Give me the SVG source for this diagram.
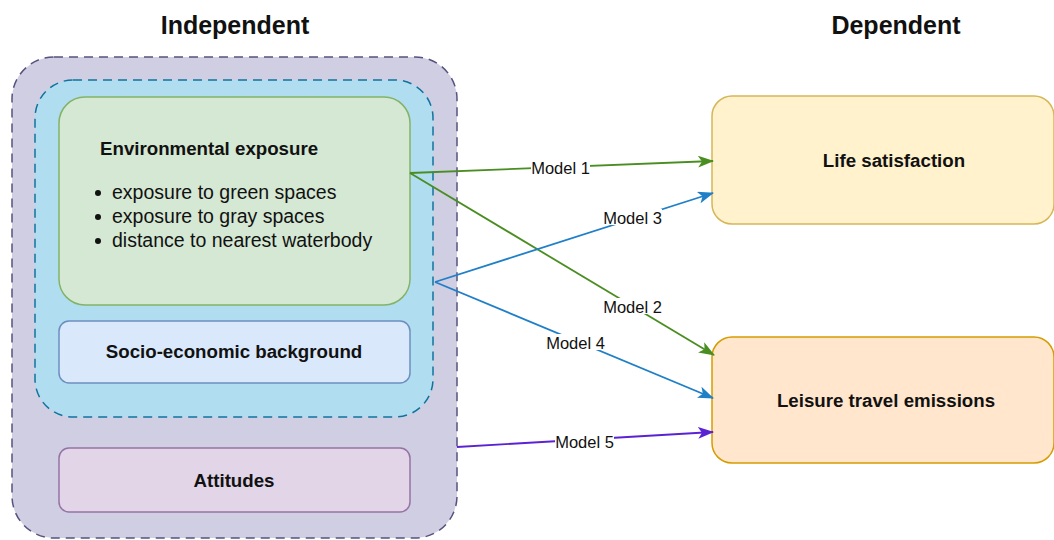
<svg xmlns="http://www.w3.org/2000/svg" width="1054" height="540" viewBox="0 0 1054 540">
  <style>
    .title { font-family: "Liberation Sans", Arial, sans-serif; font-weight: bold; font-size: 25px; fill: #111; }
    .bold { font-family: "Liberation Sans", Arial, sans-serif; font-weight: bold; font-size: 18.7px; fill: #111; }
    .body { font-family: "Liberation Sans", Arial, sans-serif; font-size: 19.5px; fill: #111; }
    .lbl { font-family: "Liberation Sans", Arial, sans-serif; font-size: 16.5px; fill: #111; }
    .lblbg { fill: #fff; }
    .edge { fill: none; stroke-width: 1.8; }
  </style>
  <defs>
    <marker id="arrGreen" viewBox="0 0 16 12" refX="15" refY="6" markerWidth="16" markerHeight="12" markerUnits="userSpaceOnUse" orient="auto">
      <path d="M0,0 L16,6 L0,12 L4,6 z" fill="#4a8e22"/>
    </marker>
    <marker id="arrBlue" viewBox="0 0 16 12" refX="15" refY="6" markerWidth="16" markerHeight="12" markerUnits="userSpaceOnUse" orient="auto">
      <path d="M0,0 L16,6 L0,12 L4,6 z" fill="#1f7fc7"/>
    </marker>
    <marker id="arrPurple" viewBox="0 0 16 12" refX="15" refY="6" markerWidth="16" markerHeight="12" markerUnits="userSpaceOnUse" orient="auto">
      <path d="M0,0 L16,6 L0,12 L4,6 z" fill="#5b22d4"/>
    </marker>
  </defs>

  <rect width="1054" height="540" fill="#fff"/>

  <!-- column headings -->
  <text class="title" x="235" y="34" text-anchor="middle">Independent</text>
  <text class="title" x="896" y="34" text-anchor="middle">Dependent</text>

  <!-- independent variable groups -->
  <g id="independent-group">
    <rect x="12" y="57" width="445" height="481" rx="42" fill="#d0cee2" stroke="#56517e" stroke-width="1.5" stroke-dasharray="9 6"/>
  </g>
  <g id="exposure-group">
    <rect x="35" y="80" width="398" height="337" rx="38" fill="#b1ddf0" stroke="#10739e" stroke-width="1.5" stroke-dasharray="9 6"/>
  </g>

  <g id="environmental-exposure">
    <rect x="59" y="97" width="351" height="208" rx="26" fill="#d5e8d4" stroke="#82b366" stroke-width="1.5"/>
    <text class="bold" x="100" y="155">Environmental exposure</text>
    <circle cx="98" cy="193" r="3" fill="#111"/>
    <circle cx="98" cy="217" r="3" fill="#111"/>
    <circle cx="98" cy="241" r="3" fill="#111"/>
    <text class="body" x="112" y="199">exposure to green spaces</text>
    <text class="body" x="112" y="223">exposure to gray spaces</text>
    <text class="body" x="112" y="247">distance to nearest waterbody</text>
  </g>

  <g id="socio-economic">
    <rect x="59" y="321" width="351" height="62" rx="10" fill="#dae8fc" stroke="#6c8ebf" stroke-width="1.5"/>
    <text class="bold" x="234" y="358" text-anchor="middle">Socio-economic background</text>
  </g>

  <g id="attitudes">
    <rect x="59" y="448" width="351" height="64" rx="10" fill="#e1d5e7" stroke="#9673a6" stroke-width="1.5"/>
    <text class="bold" x="234" y="487" text-anchor="middle">Attitudes</text>
  </g>

  <!-- dependent variables -->
  <g id="life-satisfaction">
    <rect x="712" y="96" width="342" height="128" rx="20" fill="#fff2cc" stroke="#d6b656" stroke-width="1.5"/>
    <text class="bold" x="894" y="167" text-anchor="middle">Life satisfaction</text>
  </g>

  <g id="leisure-travel-emissions">
    <rect x="712" y="337" width="342" height="126" rx="20" fill="#ffe6cc" stroke="#d79b00" stroke-width="1.5"/>
    <text class="bold" x="886" y="407" text-anchor="middle">Leisure travel emissions</text>
  </g>

  <!-- model connectors -->
  <g id="connectors">
    <line class="edge" x1="410" y1="173" x2="713" y2="161" stroke="#4a8e22" marker-end="url(#arrGreen)"/>
    <line class="edge" x1="410" y1="173" x2="714" y2="355" stroke="#4a8e22" marker-end="url(#arrGreen)"/>
    <line class="edge" x1="435" y1="282" x2="713" y2="193" stroke="#1f7fc7" marker-end="url(#arrBlue)"/>
    <line class="edge" x1="435" y1="282" x2="713" y2="398" stroke="#1f7fc7" marker-end="url(#arrBlue)"/>
    <line class="edge" x1="457" y1="447" x2="713" y2="432" stroke="#5b22d4" marker-end="url(#arrPurple)"/>

    <rect class="lblbg" x="531" y="160" width="59" height="15"/>
    <text class="lbl" x="560.5" y="174" text-anchor="middle">Model 1</text>
    <rect class="lblbg" x="603" y="298" width="59" height="16"/>
    <text class="lbl" x="632.5" y="313" text-anchor="middle">Model 2</text>
    <rect class="lblbg" x="603" y="209" width="59" height="16"/>
    <text class="lbl" x="632.5" y="224" text-anchor="middle">Model 3</text>
    <rect class="lblbg" x="546" y="334" width="59" height="16"/>
    <text class="lbl" x="575.5" y="349" text-anchor="middle">Model 4</text>
    <rect class="lblbg" x="555" y="434" width="59" height="15"/>
    <text class="lbl" x="584.5" y="448" text-anchor="middle">Model 5</text>
  </g>
</svg>
